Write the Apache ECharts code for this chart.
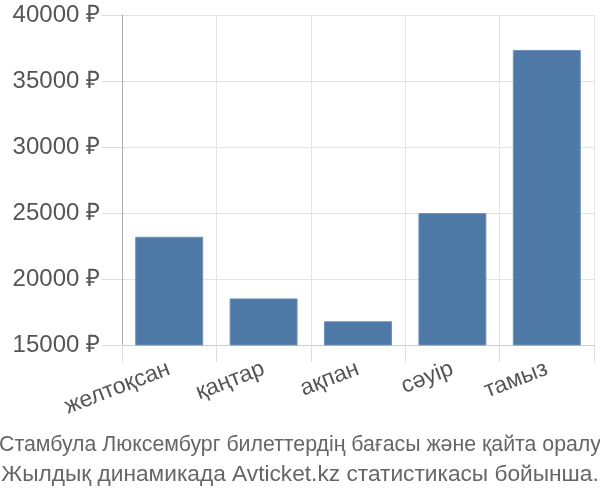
<!DOCTYPE html>
<html lang="kk">
<head>
    <meta charset="UTF-8">
    <title>Стамбула Люксембург</title>
    <script src="https://cdn.jsdelivr.net/npm/echarts@6/dist/echarts.min.js"></script>
    <style>
        html, body { margin: 0; padding: 0; background: #fff; }
        #chart { width: 600px; height: 500px; }
    </style>
</head>
<body>
<div id="chart"></div>
<script>
    // months and prices (rubles)
    var months = ['желтоқсан', 'қаңтар', 'ақпан', 'сәуір', 'тамыз'];
    var prices = [23200, 18530, 16800, 25000, 37350];
    var yTicks = [15000, 20000, 25000, 30000, 35000, 40000];
    var titleLines = [
        'Стамбула Люксембург билеттердің бағасы және қайта оралу',
        'Жылдық динамикада Avticket.kz статистикасы бойынша.'
    ];

    function titleStyle(size) {
        return {
            fontFamily: 'Liberation Sans',
            fontSize: size,
            fontWeight: 'normal',
            color: '#666'
        };
    }

    var myChart = echarts.init(document.getElementById('chart'));
    var option = {
        animation: false,
        title: [
            { text: titleLines[0], left: 'center', top: 435, padding: 0, textStyle: titleStyle(21.3) },
            { text: titleLines[1], left: 'center', top: 463, padding: 0, textStyle: titleStyle(22.7) }
        ],
        grid: { left: 122, right: 6, top: 15, bottom: 155 },
        xAxis: {
            type: 'category',
            data: months,
            axisLine: { lineStyle: { color: '#ccc' } },
            axisTick: { show: true, length: 17, lineStyle: { color: '#ddd' } },
            splitLine: { show: true, lineStyle: { color: '#e3e3e3' } },
            axisLabel: {
                rotate: 21,
                margin: 23,
                fontFamily: 'Liberation Sans',
                fontSize: 23,
                color: '#555'
            }
        },
        yAxis: {
            type: 'value',
            min: yTicks[0],
            max: yTicks[yTicks.length - 1],
            interval: 5000,
            axisLine: { show: true, lineStyle: { color: '#aaa' } },
            axisTick: { show: true, length: 20, lineStyle: { color: '#ddd' } },
            splitLine: { lineStyle: { color: '#e3e3e3' } },
            axisLabel: {
                margin: 22,
                fontFamily: 'Liberation Sans',
                fontSize: 24,
                color: '#555',
                formatter: function (v) { return v + ' ₽'; }
            }
        },
        series: [{
            type: 'bar',
            data: prices,
            barCategoryGap: '28%',
            itemStyle: {
                color: '#4e79a7',
                borderColor: '#6f93bd',
                borderWidth: 1
            }
        }]
    };
    myChart.setOption(option);
</script>
</body>
</html>
